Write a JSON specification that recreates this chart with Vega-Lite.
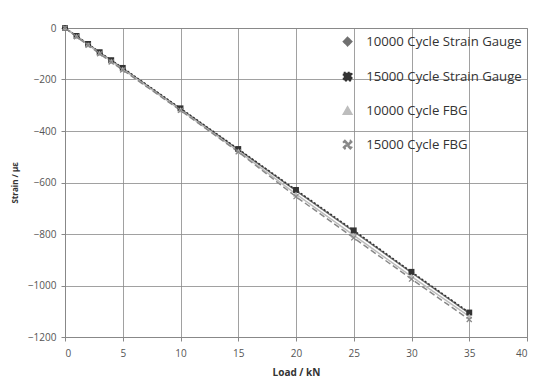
{
  "$schema": "https://vega.github.io/schema/vega-lite/v6.json",
  "width": 462,
  "height": 309,
  "autosize": "none",
  "padding": {"left": 65, "top": 28, "right": 20, "bottom": 43},
  "background": "white",
  "data": {
    "values": [
      {"series": "10000 Cycle Strain Gauge", "load": 0, "strain": 0},
      {"series": "10000 Cycle Strain Gauge", "load": 1, "strain": -32},
      {"series": "10000 Cycle Strain Gauge", "load": 2, "strain": -63},
      {"series": "10000 Cycle Strain Gauge", "load": 3, "strain": -95},
      {"series": "10000 Cycle Strain Gauge", "load": 4, "strain": -126},
      {"series": "10000 Cycle Strain Gauge", "load": 5, "strain": -157},
      {"series": "10000 Cycle Strain Gauge", "load": 10, "strain": -314},
      {"series": "10000 Cycle Strain Gauge", "load": 15, "strain": -472},
      {"series": "10000 Cycle Strain Gauge", "load": 20, "strain": -632},
      {"series": "10000 Cycle Strain Gauge", "load": 25, "strain": -790},
      {"series": "10000 Cycle Strain Gauge", "load": 30, "strain": -950},
      {"series": "10000 Cycle Strain Gauge", "load": 35, "strain": -1108},
      {"series": "15000 Cycle Strain Gauge", "load": 0, "strain": 0},
      {"series": "15000 Cycle Strain Gauge", "load": 1, "strain": -31},
      {"series": "15000 Cycle Strain Gauge", "load": 2, "strain": -62},
      {"series": "15000 Cycle Strain Gauge", "load": 3, "strain": -94},
      {"series": "15000 Cycle Strain Gauge", "load": 4, "strain": -125},
      {"series": "15000 Cycle Strain Gauge", "load": 5, "strain": -155},
      {"series": "15000 Cycle Strain Gauge", "load": 10, "strain": -312},
      {"series": "15000 Cycle Strain Gauge", "load": 15, "strain": -470},
      {"series": "15000 Cycle Strain Gauge", "load": 20, "strain": -629},
      {"series": "15000 Cycle Strain Gauge", "load": 25, "strain": -786},
      {"series": "15000 Cycle Strain Gauge", "load": 30, "strain": -947},
      {"series": "15000 Cycle Strain Gauge", "load": 35, "strain": -1105},
      {"series": "10000 Cycle FBG", "load": 0, "strain": 0},
      {"series": "10000 Cycle FBG", "load": 1, "strain": -33},
      {"series": "10000 Cycle FBG", "load": 2, "strain": -65},
      {"series": "10000 Cycle FBG", "load": 3, "strain": -98},
      {"series": "10000 Cycle FBG", "load": 4, "strain": -129},
      {"series": "10000 Cycle FBG", "load": 5, "strain": -160},
      {"series": "10000 Cycle FBG", "load": 10, "strain": -318},
      {"series": "10000 Cycle FBG", "load": 15, "strain": -478},
      {"series": "10000 Cycle FBG", "load": 20, "strain": -645},
      {"series": "10000 Cycle FBG", "load": 25, "strain": -805},
      {"series": "10000 Cycle FBG", "load": 30, "strain": -965},
      {"series": "10000 Cycle FBG", "load": 35, "strain": -1120},
      {"series": "15000 Cycle FBG", "load": 0, "strain": 0},
      {"series": "15000 Cycle FBG", "load": 1, "strain": -34},
      {"series": "15000 Cycle FBG", "load": 2, "strain": -67},
      {"series": "15000 Cycle FBG", "load": 3, "strain": -100},
      {"series": "15000 Cycle FBG", "load": 4, "strain": -132},
      {"series": "15000 Cycle FBG", "load": 5, "strain": -163},
      {"series": "15000 Cycle FBG", "load": 10, "strain": -320},
      {"series": "15000 Cycle FBG", "load": 15, "strain": -481},
      {"series": "15000 Cycle FBG", "load": 20, "strain": -655},
      {"series": "15000 Cycle FBG", "load": 25, "strain": -815},
      {"series": "15000 Cycle FBG", "load": 30, "strain": -975},
      {"series": "15000 Cycle FBG", "load": 35, "strain": -1132}
    ]
  },
  "encoding": {
    "x": {
      "field": "load", "type": "quantitative", "title": "Load / kN",
      "scale": {"domain": [0, 40], "nice": false},
      "axis": {"values": [0, 5, 10, 15, 20, 25, 30, 35, 40], "labelFontSize": 10, "labelColor": "#555", "titleFontSize": 10, "titleFontWeight": "bold", "titleColor": "#333", "titlePadding": 9, "labelPadding": 7, "tickSize": 4, "tickColor": "#888", "domainColor": "#888", "gridColor": "#8a8a8a", "gridOpacity": 0.8, "labelFont": "Open Sans", "titleFont": "Open Sans"}
    },
    "y": {
      "field": "strain", "type": "quantitative", "title": "Strain / με",
      "scale": {"domain": [-1200, 0], "nice": false},
      "axis": {"values": [0, -200, -400, -600, -800, -1000, -1200], "format": "d", "labelFontSize": 10, "labelColor": "#555", "titleFontSize": 8, "titleFontWeight": "bold", "titleColor": "#333", "titlePadding": 8, "labelPadding": 5, "tickSize": 4, "tickColor": "#888", "domainColor": "#888", "gridColor": "#8a8a8a", "gridOpacity": 0.8, "labelFont": "Open Sans", "titleFont": "Open Sans"}
    },
    "color": {
      "field": "series", "type": "nominal", "title": null,
      "scale": {
        "domain": ["10000 Cycle Strain Gauge", "15000 Cycle Strain Gauge", "10000 Cycle FBG", "15000 Cycle FBG"],
        "range": ["#707070", "#333333", "#bdbdbd", "#888888"]
      },
      "legend": {
        "orient": "none", "legendX": 276, "legendY": 7, "labelFontSize": 13.2, "labelColor": "#333", "labelFont": "Open Sans",
        "rowPadding": 18, "symbolSize": 60, "symbolStrokeWidth": 2, "labelOffset": 12
      }
    }
  },
  "layer": [
    {
      "mark": {"type": "line", "strokeWidth": 1.5},
      "encoding": {
        "strokeDash": {
          "field": "series", "type": "nominal", "title": null,
          "scale": {
            "domain": ["10000 Cycle Strain Gauge", "15000 Cycle Strain Gauge", "10000 Cycle FBG", "15000 Cycle FBG"],
            "range": [[1, 0], [2, 2], [1, 0], [6, 3]]
          }
        }
      }
    },
    {
      "mark": {"type": "point", "filled": true, "size": 35, "opacity": 1},
      "encoding": {
        "shape": {
          "field": "series", "type": "nominal", "title": null,
          "scale": {
            "domain": ["10000 Cycle Strain Gauge", "15000 Cycle Strain Gauge", "10000 Cycle FBG", "15000 Cycle FBG"],
            "range": ["diamond", "square", "triangle-up", "M-1,-0.7L-0.7,-1L0,-0.3L0.7,-1L1,-0.7L0.3,0L1,0.7L0.7,1L0,0.3L-0.7,1L-1,0.7L-0.3,0Z"]
          }
        }
      }
    }
  ],
  "config": {
    "view": {"stroke": "#888"},
    "axis": {"grid": true}
  }
}
